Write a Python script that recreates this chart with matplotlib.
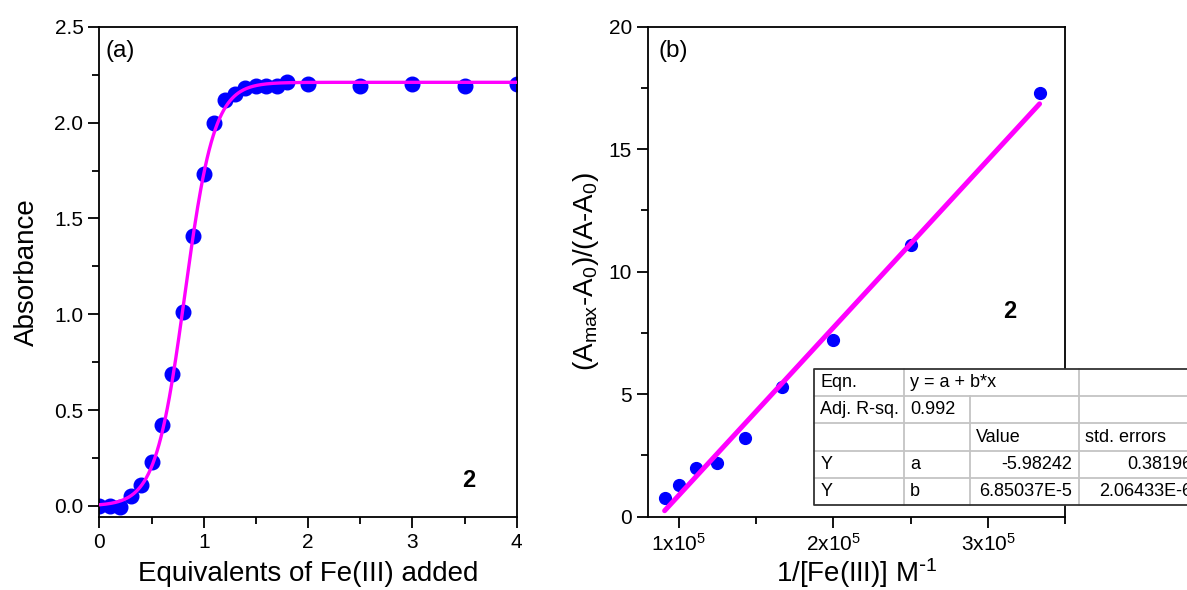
import numpy as np
import matplotlib
matplotlib.use("Agg")
import matplotlib.pyplot as plt
from matplotlib.ticker import MultipleLocator, FixedLocator

plt.rcParams['font.family'] = ['Liberation Sans', 'DejaVu Sans']
plt.rcParams['mathtext.default'] = 'regular'

# (a) titration: absorbance vs equivalents of Fe(III)
equiv = [0.0, 0.1, 0.2, 0.3, 0.4, 0.5, 0.6, 0.7, 0.8, 0.9, 1.0, 1.1, 1.2,
         1.3, 1.4, 1.5, 1.6, 1.7, 1.8, 2.0, 2.5, 3.0, 3.5, 4.0]
absorb = [0.0, 0.0, -0.005, 0.05, 0.11, 0.23, 0.42, 0.69, 1.01, 1.41, 1.73,
          2.00, 2.12, 2.15, 2.18, 2.19, 2.19, 2.19, 2.21, 2.20, 2.19, 2.20,
          2.19, 2.20]
# Boltzmann fit parameters
fit_a1 = 0.0
fit_a2 = 2.21
fit_x0 = 0.82
fit_dx = 0.14

# (b) Benesi-Hildebrand plot
inv_fe = [90909, 100000, 111111, 125000, 142857, 166667, 200000, 250000, 333333]
ratio = [0.75, 1.29, 1.97, 2.18, 3.2, 5.3, 7.2, 11.1, 17.3]
lin_a = -5.98242
lin_b = 6.85037e-5

table_rows = [
    ["Eqn.", "y = a + b*x", "", ""],
    ["Adj. R-sq.", "0.992", "", ""],
    ["", "", "Value", "std. errors"],
    ["Y", "a", "-5.98242", "0.38196"],
    ["Y", "b", "6.85037E-5", "2.06433E-6"],
]

BLUE = "#0000ff"
MAGENTA = "#ff00ff"

fig = plt.figure(figsize=(11.87, 5.90), dpi=100)
ax1 = fig.add_axes([0.0837, 0.1242, 0.3516, 0.8305])
ax2 = fig.add_axes([0.5457, 0.1242, 0.3518, 0.8305])


def style_axes(ax):
    for s in ax.spines.values():
        s.set_linewidth(1.3)
    ax.tick_params(which='both', direction='out', top=False, right=False,
                   labelsize=15, width=1.3)
    ax.tick_params(which='major', length=8)
    ax.tick_params(which='minor', length=5)


# panel (a)
xs = np.linspace(0, 4, 400)
fit_curve = fit_a2 + (fit_a1 - fit_a2) / (1 + np.exp((xs - fit_x0) / fit_dx))
ax1.plot(equiv, absorb, 'o', color=BLUE, ms=10.5, zorder=2)
ax1.plot(xs, fit_curve, color=MAGENTA, lw=2.4, zorder=3)
ax1.set_xlim(0, 4)
ax1.set_ylim(-0.056, 2.5)
ax1.xaxis.set_major_locator(MultipleLocator(1))
ax1.xaxis.set_minor_locator(MultipleLocator(0.5))
ax1.yaxis.set_major_locator(FixedLocator([0, 0.5, 1.0, 1.5, 2.0, 2.5]))
ax1.yaxis.set_minor_locator(FixedLocator([0.25, 0.75, 1.25, 1.75, 2.25]))
ax1.yaxis.set_major_formatter(plt.FuncFormatter(lambda v, p: f"{v:.1f}"))
style_axes(ax1)
ax1.set_xlabel("Equivalents of Fe(III) added", fontsize=20, labelpad=7)
ax1.set_ylabel("Absorbance", fontsize=20, labelpad=10)
ax1.text(0.015, 0.95, "(a)", transform=ax1.transAxes, fontsize=17.5,
         ha='left', va='center')
ax1.text(0.885, 0.074, "2", transform=ax1.transAxes, fontsize=17,
         fontweight='bold', ha='center', va='center')

# panel (b)
xl = np.array([inv_fe[0], inv_fe[-1]])
ax2.plot(inv_fe, ratio, 'o', color=BLUE, ms=8.5, zorder=2)
ax2.plot(xl, lin_a + lin_b * xl, color=MAGENTA, lw=3.6,
         solid_capstyle='round', zorder=3)
ax2.set_xlim(80000, 350000)
ax2.set_ylim(0, 20)
ax2.xaxis.set_major_locator(FixedLocator([100000, 200000, 300000]))
ax2.xaxis.set_minor_locator(FixedLocator([150000, 250000, 350000]))
ax2.xaxis.set_major_formatter(
    plt.FuncFormatter(lambda v, p: r"%dx10$^{5}$" % round(v / 1e5)))
ax2.yaxis.set_major_locator(MultipleLocator(5))
ax2.yaxis.set_minor_locator(MultipleLocator(2.5))
style_axes(ax2)
ax2.set_xlabel("1/[Fe(III)] M$^{\\text{-}1}$", fontsize=20, labelpad=1)
ax2.set_ylabel("(A$_{max}$-A$_0$)/(A-A$_0$)", fontsize=20, labelpad=5)
ax2.text(0.025, 0.95, "(b)", transform=ax2.transAxes, fontsize=17.5,
         ha='left', va='center')
ax2.text(0.868, 0.418, "2", transform=ax2.transAxes, fontsize=17,
         fontweight='bold', ha='center', va='center')

# fit statistics table, in pixel units relative to its top-left corner
col_x = [0, 89.7, 155.7, 265, 385]
row_h = 27.2
tw, th = col_x[-1], row_h * len(table_rows)
tab = fig.add_axes([814.3 / 1187, 1 - 505 / 590, tw / 1187, th / 590])
tab.set_xlim(0, tw)
tab.set_ylim(th, 0)
tab.axis('off')
tab.add_patch(plt.Rectangle((0, 0), tw, th, facecolor='white',
                            edgecolor='none', clip_on=False))
grey = "#c4c4c4"
for i in range(1, len(table_rows)):
    tab.plot([0, tw], [i * row_h] * 2, color=grey, lw=1.3, clip_on=False)
for j, cx in enumerate(col_x[1:-1], start=1):
    for i in range(len(table_rows)):
        # the equation spans the second and third columns
        if i == 0 and j == 2:
            continue
        tab.plot([cx, cx], [i * row_h, (i + 1) * row_h], color=grey, lw=1.3,
                 clip_on=False)
tab.plot([tw, 0, 0, tw], [0, 0, th, th], color='#333333', lw=1.3,
         clip_on=False)

fs = 13
for i, row in enumerate(table_rows):
    yc = (i + 0.5) * row_h
    for j, txt in enumerate(row):
        if not txt:
            continue
        right = i >= 3 and j >= 2
        if right:
            tab.text(col_x[j + 1] - 7, yc, txt, fontsize=fs, ha='right',
                     va='center', clip_on=False)
        else:
            tab.text(col_x[j] + 6, yc, txt, fontsize=fs, ha='left',
                     va='center', clip_on=False)

fig.savefig("out.png", dpi=100)
